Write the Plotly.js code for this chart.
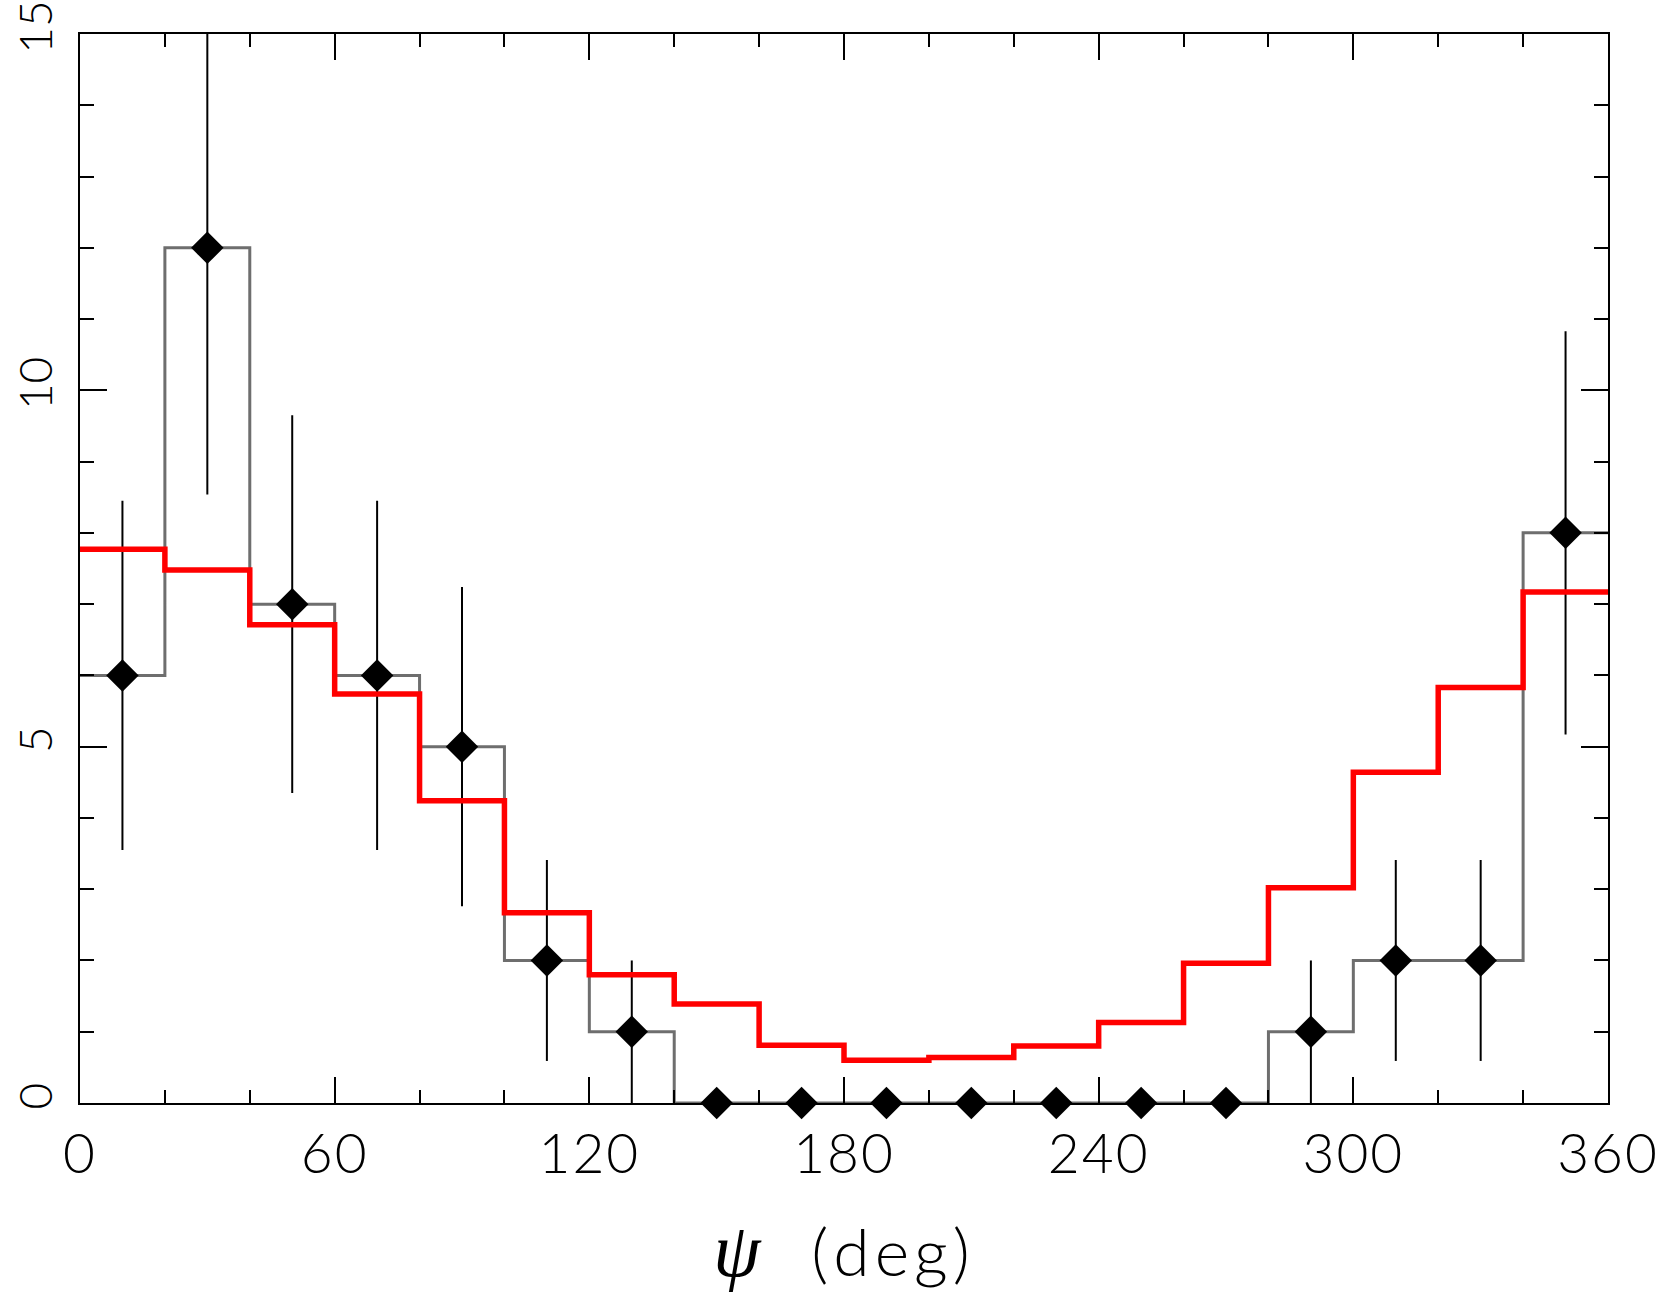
<!DOCTYPE html>
<html>
<head>
<meta charset="utf-8">
<script src="https://cdn.plot.ly/plotly-3.0.1.min.js"></script>
<style>
html,body{margin:0;padding:0;background:#fff;}
#chart{width:1661px;height:1296px;}
.xtick text {letter-spacing: 2px;}
.g-xtitle text {letter-spacing: 5px;}
</style>
</head>
<body>
<div id="chart"></div>
<script>
// Bin centres and edges (psi, deg)
const binCenters = [10, 30, 50, 70, 90, 110, 130, 150, 170, 190, 210, 230, 250, 270, 290, 310, 330, 350];
const binEdges = [0, 20, 40, 60, 80, 100, 120, 140, 160, 180, 200, 220, 240, 260, 280, 300, 320, 340, 360];
// Observed counts per bin
const observedCounts = [6, 12, 7, 6, 5, 2, 1, 0, 0, 0, 0, 0, 0, 0, 1, 2, 2, 8];
// Error bars (half length)
const observedErrors = [2.45, 3.46, 2.65, 2.45, 2.24, 1.41, 1.0, 0, 0, 0, 0, 0, 0, 0, 1.0, 1.41, 1.41, 2.83];
// Model histogram (red)
const modelCounts = [7.77, 7.48, 6.71, 5.74, 4.24, 2.67, 1.80, 1.39, 0.81, 0.60, 0.64, 0.80, 1.13, 1.96, 3.02, 4.64, 5.83, 7.17];
const xTickVals = [0, 60, 120, 180, 240, 300, 360];
const yTickVals = [0, 5, 10, 15];

const stepY = arr => arr.concat([arr[arr.length - 1]]);

const FONT = 'Lato, "DejaVu Sans", sans-serif';

const traces = [
  {
    x: binEdges, y: stepY(observedCounts), type: 'scatter', mode: 'lines',
    line: {shape: 'hv', color: '#6e6e6e', width: 3},
    hoverinfo: 'skip', showlegend: false
  },
  {
    x: binCenters, y: observedCounts, type: 'scatter', mode: 'markers',
    marker: {opacity: 0, size: 1},
    error_y: {type: 'data', array: observedErrors, visible: true, color: '#000', thickness: 2, width: 0},
    cliponaxis: true, showlegend: false
  },
  {
    x: binEdges, y: stepY(modelCounts), type: 'scatter', mode: 'lines',
    line: {shape: 'hv', color: '#ff0000', width: 5.5},
    showlegend: false
  },
  {
    x: binCenters, y: observedCounts, type: 'scatter', mode: 'markers',
    marker: {symbol: 'diamond', size: 25, color: '#000', line: {width: 0}},
    cliponaxis: false, showlegend: false
  }
];

const layout = {
  width: 1661, height: 1296,
  paper_bgcolor: '#fff', plot_bgcolor: '#fff',
  margin: {l: 80, r: 53, t: 34, b: 193},
  showlegend: false,
  font: {family: FONT, color: '#000'},
  xaxis: {
    range: [0, 360], tickmode: 'array', tickvals: xTickVals, ticktext: xTickVals.map(String),
    ticks: 'inside', ticklen: 26, tickwidth: 2, tickcolor: '#000',
    minor: {tickmode: 'linear', tick0: 0, dtick: 20, ticks: 'inside', ticklen: 13, tickwidth: 2, tickcolor: '#000', showgrid: false},
    showline: true, linecolor: '#000', linewidth: 2, mirror: 'allticks',
    showgrid: false, zeroline: false,
    tickfont: {family: FONT, size: 55, color: '#000', weight: 300},
    ticklabelstandoff: 2, ticklabeloverflow: 'allow',
    title: {text: '<span style="font-family:\'Liberation Serif\',serif;font-style:italic;font-size:76px">ψ</span>\u00a0\u00a0(deg)', font: {family: FONT, size: 66, color: '#000', weight: 300}, standoff: 46}
  },
  yaxis: {
    range: [0, 15], tickmode: 'array', tickvals: yTickVals, ticktext: yTickVals.map(String),
    ticks: 'inside', ticklen: 27, tickwidth: 2, tickcolor: '#000',
    minor: {tickmode: 'linear', tick0: 0, dtick: 1, ticks: 'inside', ticklen: 14, tickwidth: 2, tickcolor: '#000', showgrid: false},
    showline: true, linecolor: '#000', linewidth: 2, mirror: 'allticks',
    showgrid: false, zeroline: false, tickangle: -90,
    tickfont: {family: FONT, size: 46, color: '#000', weight: 300},
    ticklabelstandoff: 8, ticklabeloverflow: 'allow'
  }
};

Plotly.newPlot('chart', traces, layout, {displayModeBar: false, staticPlot: true});
</script>
</body>
</html>
